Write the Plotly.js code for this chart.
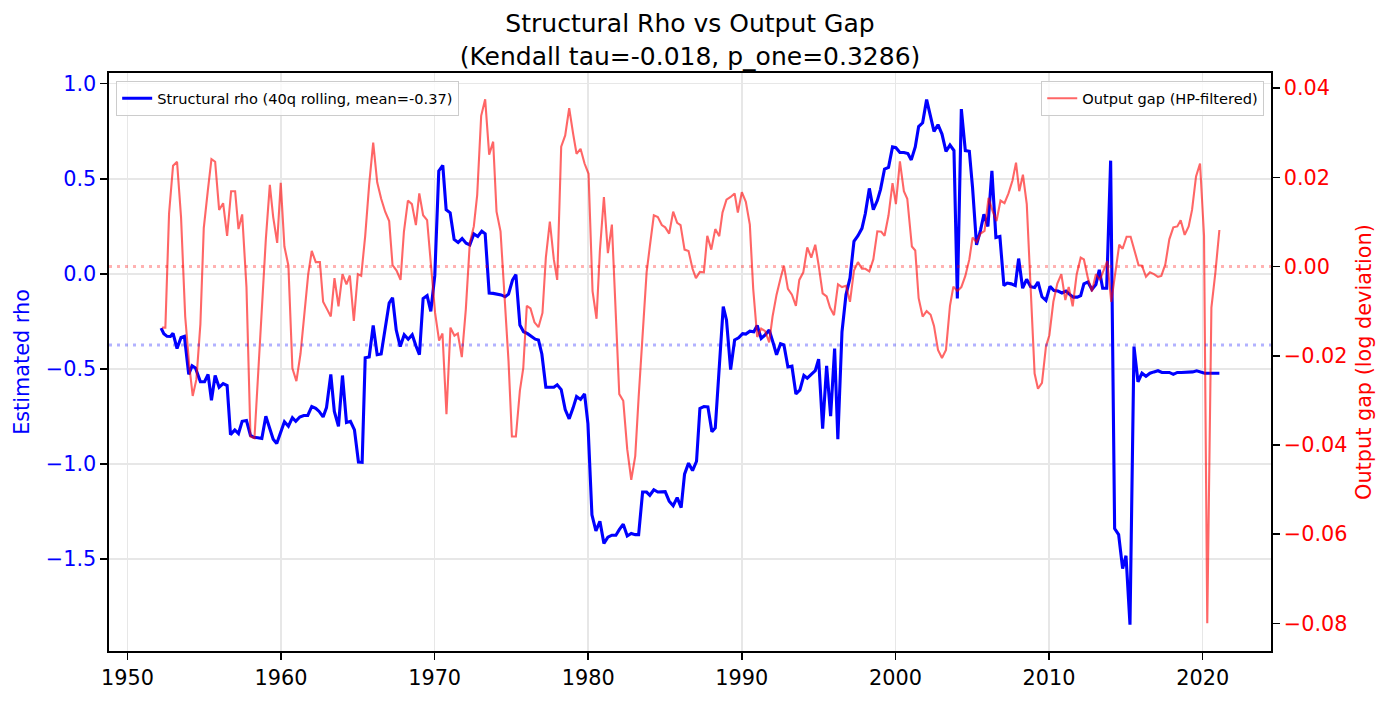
<!DOCTYPE html>
<html>
<head>
<meta charset="utf-8">
<script src="https://cdn.plot.ly/plotly-3.0.1.min.js"></script>
<style>
  html, body { margin: 0; padding: 0; background: #fff; }
  #graphDiv { width: 1392px; height: 701px; }
</style>
</head>
<body>
<div id="graphDiv"></div>
<script>
// Structural rho, 40q rolling window
var rhoYears = [
  1952.19, 1952.37, 1952.58, 1952.80, 1952.97, 1953.23, 1953.49, 1953.71, 1953.99, 1954.21,
  1954.43, 1954.75, 1955.02, 1955.25, 1955.47, 1955.71, 1955.97, 1956.23, 1956.49, 1956.71,
  1956.99, 1957.23, 1957.47, 1957.75, 1958.01, 1958.23, 1958.49, 1958.75, 1959.01, 1959.27,
  1959.49, 1959.72, 1959.96, 1960.22, 1960.48, 1960.74, 1960.96, 1961.22, 1961.48, 1961.74,
  1962.00, 1962.26, 1962.48, 1962.74, 1962.96, 1963.24, 1963.47, 1963.74, 1964.00, 1964.26,
  1964.52, 1964.78, 1965.04, 1965.28, 1965.48, 1965.74, 1966.00, 1966.26, 1966.52, 1966.78,
  1967.04, 1967.26, 1967.50, 1967.76, 1968.02, 1968.28, 1968.54, 1968.78, 1969.01, 1969.25,
  1969.51, 1969.75, 1970.01, 1970.27, 1970.53, 1970.75, 1971.01, 1971.27, 1971.53, 1971.79,
  1972.05, 1972.29, 1972.55, 1972.81, 1973.07, 1973.29, 1973.55, 1973.81, 1974.07, 1974.33,
  1974.59, 1974.81, 1975.07, 1975.29, 1975.55, 1975.79, 1976.05, 1976.33, 1976.55, 1976.76,
  1976.98, 1977.24, 1977.50, 1977.76, 1977.98, 1978.24, 1978.50, 1978.76, 1979.02, 1979.24,
  1979.50, 1979.76, 1979.98, 1980.24, 1980.50, 1980.76, 1981.02, 1981.28, 1981.54, 1981.80,
  1982.02, 1982.28, 1982.54, 1982.80, 1983.06, 1983.28, 1983.54, 1983.80, 1984.01, 1984.27,
  1984.53, 1984.79, 1985.01, 1985.27, 1985.53, 1985.79, 1986.05, 1986.27, 1986.53, 1986.79,
  1987.05, 1987.27, 1987.53, 1987.79, 1988.05, 1988.27, 1988.53, 1988.79, 1989.00, 1989.27,
  1989.53, 1989.79, 1990.05, 1990.26, 1990.52, 1990.78, 1991.00, 1991.26, 1991.52, 1991.78,
  1992.04, 1992.26, 1992.52, 1992.74, 1993.00, 1993.26, 1993.52, 1993.78, 1994.04, 1994.26,
  1994.52, 1994.78, 1995.00, 1995.26, 1995.52, 1995.78, 1996.04, 1996.25, 1996.52, 1996.78,
  1997.04, 1997.30, 1997.56, 1997.82, 1998.04, 1998.30, 1998.56, 1998.82, 1999.03, 1999.29,
  1999.55, 1999.81, 2000.03, 2000.29, 2000.55, 2000.81, 2001.03, 2001.29, 2001.51, 2001.77,
  2002.03, 2002.29, 2002.51, 2002.77, 2003.03, 2003.29, 2003.55, 2003.81, 2004.03, 2004.29,
  2004.55, 2004.81, 2005.02, 2005.28, 2005.54, 2005.76, 2006.02, 2006.28, 2006.54, 2006.80,
  2007.06, 2007.28, 2007.54, 2007.80, 2008.02, 2008.28, 2008.54, 2008.80, 2009.06, 2009.28,
  2009.54, 2009.80, 2010.06, 2010.32, 2010.58, 2010.84, 2011.10, 2011.32, 2011.58, 2011.84,
  2012.06, 2012.27, 2012.53, 2012.79, 2013.05, 2013.27, 2013.49, 2013.75, 2014.01, 2014.27,
  2014.53, 2014.79, 2015.01, 2015.27, 2015.53, 2015.79, 2016.05, 2016.31, 2016.57, 2016.83,
  2017.09, 2017.35, 2017.61, 2017.83, 2018.09, 2018.35, 2018.61, 2018.87, 2019.13, 2019.35,
  2019.61, 2019.87, 2020.13, 2020.39, 2020.65, 2020.91, 2021.09
];
var rhoValues = [
  -0.286, -0.315, -0.329, -0.330, -0.313, -0.393, -0.335, -0.329, -0.529, -0.484,
  -0.496, -0.568, -0.568, -0.529, -0.665, -0.535, -0.597, -0.578, -0.588, -0.846,
  -0.821, -0.840, -0.776, -0.772, -0.850, -0.860, -0.862, -0.866, -0.749, -0.821,
  -0.870, -0.893, -0.840, -0.778, -0.802, -0.757, -0.776, -0.753, -0.745, -0.745,
  -0.698, -0.708, -0.724, -0.753, -0.704, -0.529, -0.724, -0.802, -0.535, -0.782,
  -0.776, -0.821, -0.990, -0.992, -0.442, -0.438, -0.272, -0.426, -0.422, -0.282,
  -0.154, -0.126, -0.296, -0.383, -0.321, -0.344, -0.321, -0.379, -0.426, -0.130,
  -0.115, -0.198, -0.010, 0.541, 0.570, 0.337, 0.321, 0.181, 0.165, 0.185,
  0.161, 0.152, 0.210, 0.196, 0.224, 0.210, -0.101, -0.103, -0.107, -0.111,
  -0.121, -0.107, -0.033, -0.004, -0.270, -0.305, -0.315, -0.329, -0.344, -0.348,
  -0.422, -0.597, -0.597, -0.597, -0.584, -0.609, -0.714, -0.763, -0.704, -0.646,
  -0.661, -0.632, -0.788, -1.268, -1.352, -1.302, -1.418, -1.385, -1.375, -1.375,
  -1.346, -1.317, -1.379, -1.366, -1.372, -1.372, -1.148, -1.148, -1.165, -1.136,
  -1.148, -1.146, -1.146, -1.196, -1.220, -1.177, -1.230, -1.054, -0.996, -1.035,
  -0.986, -0.708, -0.698, -0.700, -0.831, -0.811, -0.480, -0.173, -0.243, -0.504,
  -0.348, -0.337, -0.315, -0.317, -0.302, -0.305, -0.272, -0.340, -0.321, -0.296,
  -0.364, -0.426, -0.368, -0.374, -0.490, -0.486, -0.632, -0.611, -0.535, -0.549,
  -0.529, -0.510, -0.449, -0.815, -0.484, -0.749, -0.393, -0.870, -0.305, -0.111,
  -0.023, 0.171, 0.200, 0.239, 0.317, 0.449, 0.337, 0.385, 0.444, 0.551,
  0.560, 0.667, 0.663, 0.638, 0.638, 0.632, 0.599, 0.667, 0.774, 0.794,
  0.916, 0.823, 0.749, 0.784, 0.735, 0.644, 0.677, 0.648, -0.130, 0.866,
  0.648, 0.644, 0.453, 0.152, 0.230, 0.313, 0.249, 0.541, 0.191, 0.196,
  -0.062, -0.049, -0.053, -0.062, 0.080, -0.076, -0.029, -0.068, -0.072, -0.043,
  -0.121, -0.140, -0.066, -0.088, -0.091, -0.101, -0.091, -0.107, -0.123, -0.123,
  -0.115, -0.053, -0.043, -0.082, -0.056, 0.021, -0.076, -0.076, 0.595, -1.340,
  -1.372, -1.551, -1.483, -1.846, -0.383, -0.568, -0.523, -0.539, -0.523, -0.516,
  -0.510, -0.519, -0.519, -0.519, -0.529, -0.519, -0.519, -0.519, -0.519, -0.516,
  -0.510, -0.516, -0.523, -0.523, -0.523, -0.523, -0.523
];
var rhoMean = -0.374;

// Output gap, HP-filtered (log deviation)
var gapYears = [
  1952.26, 1952.47, 1952.71, 1952.97, 1953.23, 1953.49, 1953.76, 1954.02, 1954.25, 1954.49,
  1954.75, 1954.97, 1955.23, 1955.47, 1955.71, 1955.97, 1956.23, 1956.49, 1956.75, 1957.01,
  1957.23, 1957.47, 1957.75, 1958.01, 1958.27, 1958.53, 1958.75, 1959.01, 1959.27, 1959.49,
  1959.75, 1959.98, 1960.22, 1960.48, 1960.74, 1961.00, 1961.27, 1961.53, 1961.77, 1962.00,
  1962.26, 1962.53, 1962.74, 1963.00, 1963.24, 1963.48, 1963.74, 1964.00, 1964.26, 1964.48,
  1964.74, 1965.00, 1965.22, 1965.48, 1965.74, 1966.00, 1966.26, 1966.52, 1966.78, 1967.04,
  1967.26, 1967.52, 1967.78, 1968.00, 1968.26, 1968.52, 1968.78, 1969.00, 1969.25, 1969.51,
  1969.77, 1970.03, 1970.29, 1970.51, 1970.77, 1971.03, 1971.29, 1971.51, 1971.77, 1972.03,
  1972.29, 1972.55, 1972.77, 1973.03, 1973.29, 1973.55, 1973.81, 1974.03, 1974.29, 1974.55,
  1974.81, 1975.03, 1975.29, 1975.55, 1975.77, 1976.00, 1976.24, 1976.50, 1976.76, 1977.02,
  1977.24, 1977.50, 1977.76, 1977.98, 1978.24, 1978.50, 1978.76, 1979.02, 1979.24, 1979.50,
  1979.76, 1980.02, 1980.28, 1980.54, 1980.76, 1981.02, 1981.28, 1981.54, 1981.76, 1982.02,
  1982.28, 1982.54, 1982.80, 1983.06, 1983.28, 1983.54, 1983.80, 1984.01, 1984.27, 1984.53,
  1984.79, 1985.01, 1985.27, 1985.53, 1985.79, 1986.01, 1986.27, 1986.53, 1986.79, 1987.01,
  1987.27, 1987.53, 1987.75, 1988.01, 1988.27, 1988.53, 1988.74, 1989.00, 1989.27, 1989.53,
  1989.74, 1990.00, 1990.26, 1990.52, 1990.74, 1991.00, 1991.26, 1991.52, 1991.78, 1992.00,
  1992.26, 1992.52, 1992.74, 1993.00, 1993.26, 1993.52, 1993.74, 1994.00, 1994.26, 1994.52,
  1994.78, 1995.00, 1995.26, 1995.52, 1995.74, 1996.00, 1996.26, 1996.52, 1996.78, 1997.04,
  1997.30, 1997.56, 1997.82, 1998.04, 1998.30, 1998.56, 1998.82, 1999.08, 1999.29, 1999.55,
  1999.81, 2000.03, 2000.29, 2000.55, 2000.77, 2001.07, 2001.29, 2001.51, 2001.77, 2002.03,
  2002.29, 2002.51, 2002.77, 2003.03, 2003.29, 2003.55, 2003.77, 2004.03, 2004.29, 2004.55,
  2004.81, 2005.02, 2005.28, 2005.54, 2005.80, 2006.06, 2006.32, 2006.58, 2006.84, 2007.10,
  2007.36, 2007.62, 2007.85, 2008.06, 2008.30, 2008.55, 2008.80, 2009.06, 2009.28, 2009.54,
  2009.80, 2010.02, 2010.28, 2010.54, 2010.80, 2011.06, 2011.28, 2011.54, 2011.80, 2012.06,
  2012.27, 2012.53, 2012.79, 2013.05, 2013.31, 2013.53, 2013.79, 2014.05, 2014.31, 2014.57,
  2014.79, 2015.05, 2015.31, 2015.57, 2015.83, 2016.05, 2016.31, 2016.57, 2016.83, 2017.09,
  2017.31, 2017.57, 2017.83, 2018.09, 2018.35, 2018.57, 2018.83, 2019.09, 2019.31, 2019.57,
  2019.83, 2020.09, 2020.30, 2020.57, 2020.83, 2021.09
];
var gapValues = [
  -0.0137, -0.0137, 0.0119, 0.0226, 0.0235, 0.0111, -0.0112, -0.0220, -0.0290, -0.0253,
  -0.0129, 0.0086, 0.0169, 0.0241, 0.0235, 0.0127, 0.0142, 0.0069, 0.0169, 0.0169,
  0.0084, 0.0117, -0.0046, -0.0381, -0.0385, -0.0228, -0.0073, 0.0061, 0.0183, 0.0111,
  0.0053, 0.0188, 0.0045, 0.0002, -0.0228, -0.0257, -0.0195, -0.0104, -0.0017, 0.0035,
  0.0010, 0.0010, -0.0079, -0.0096, -0.0112, -0.0026, -0.0089, -0.0017, -0.0040, -0.0020,
  -0.0122, -0.0017, -0.0021, 0.0069, 0.0185, 0.0278, 0.0189, 0.0152, 0.0123, 0.0102,
  0.0003, -0.0009, -0.0030, 0.0078, 0.0148, 0.0140, 0.0093, 0.0164, 0.0115, 0.0104,
  -0.0005, -0.0104, -0.0166, -0.0150, -0.0331, -0.0137, -0.0155, -0.0150, -0.0203, -0.0096,
  0.0053, 0.0090, 0.0160, 0.0338, 0.0375, 0.0251, 0.0280, 0.0123, 0.0079, -0.0055,
  -0.0212, -0.0381, -0.0381, -0.0278, -0.0228, -0.0088, -0.0094, -0.0125, -0.0136, -0.0104,
  0.0020, 0.0101, 0.0016, -0.0030, 0.0269, 0.0294, 0.0355, 0.0297, 0.0253, 0.0264,
  0.0231, 0.0208, -0.0055, -0.0117, 0.0036, 0.0156, 0.0030, 0.0094, -0.0079, -0.0286,
  -0.0301, -0.0410, -0.0478, -0.0425, -0.0294, -0.0162, -0.0013, 0.0045, 0.0115, 0.0111,
  0.0093, 0.0088, 0.0074, 0.0123, 0.0098, 0.0093, 0.0038, 0.0035, -0.0005, -0.0026,
  -0.0012, -0.0013, 0.0069, 0.0038, 0.0084, 0.0068, 0.0121, 0.0150, 0.0156, 0.0164,
  0.0121, 0.0167, 0.0145, 0.0094, -0.0050, -0.0158, -0.0139, -0.0145, -0.0170, -0.0112,
  -0.0063, -0.0026, 0.0002, -0.0050, -0.0063, -0.0088, -0.0030, -0.0013, 0.0043, 0.0020,
  0.0049, 0.0003, -0.0060, -0.0067, -0.0092, -0.0109, -0.0040, -0.0046, -0.0043, -0.0079,
  -0.0009, 0.0010, -0.0005, -0.0005, -0.0011, 0.0016, 0.0079, 0.0078, 0.0069, 0.0115,
  0.0187, 0.0140, 0.0236, 0.0169, 0.0152, 0.0045, 0.0036, -0.0071, -0.0112, -0.0100,
  -0.0108, -0.0133, -0.0187, -0.0205, -0.0187, -0.0088, -0.0045, -0.0055, -0.0046, -0.0021,
  0.0016, 0.0065, 0.0055, 0.0074, 0.0080, 0.0154, 0.0125, 0.0102, 0.0148, 0.0142,
  0.0164, 0.0193, 0.0233, 0.0169, 0.0206, 0.0140, -0.0063, -0.0240, -0.0274, -0.0261,
  -0.0179, -0.0154, -0.0079, -0.0038, -0.0017, -0.0075, -0.0046, -0.0089, -0.0017, 0.0020,
  0.0016, -0.0026, -0.0056, -0.0017, -0.0030, -0.0012, 0.0012, -0.0079, -0.0009, 0.0049,
  0.0040, 0.0067, 0.0067, 0.0036, 0.0003, 0.0002, -0.0023, -0.0013, -0.0017, -0.0023,
  -0.0021, 0.0005, 0.0061, 0.0088, 0.0090, 0.0104, 0.0071, 0.0090, 0.0127, 0.0202,
  0.0231, 0.0069, -0.0800, -0.0092, -0.0013, 0.0082
];
var gapMean = 0.0;

var yearTicks = [1950, 1960, 1970, 1980, 1990, 2000, 2010, 2020];
var rhoTicks = [-1.5, -1.0, -0.5, 0.0, 0.5, 1.0];
var gapTicks = [-0.08, -0.06, -0.04, -0.02, 0.00, 0.02, 0.04];

var FONT = 'DejaVu Sans, Arial, sans-serif';
var tickPx = 20.8;

var rhoTrace = {
    type: 'scatter',
    mode: 'lines',
    name: 'Structural rho (40q rolling, mean=' + rhoMean.toFixed(2) + ')',
    x: rhoYears,
    y: rhoValues,
    yaxis: 'y',
    legend: 'legend',
    line: { color: '#0000ff', width: 3.1 }
};
var gapTrace = {
    type: 'scatter',
    mode: 'lines',
    name: 'Output gap (HP-filtered)',
    x: gapYears,
    y: gapValues,
    yaxis: 'y2',
    legend: 'legend2',
    line: { color: 'rgba(255,0,0,0.6)', width: 2.1 }
};

var legendBox = {
    bgcolor: 'rgba(255,255,255,0.8)',
    bordercolor: '#cccccc',
    borderwidth: 1.2,
    font: { family: FONT, size: 14.6, color: '#000' },
    yanchor: 'top',
    y: 0.986
};

var layout = {
    width: 1392,
    height: 701,
    margin: { l: 109, r: 121, t: 73, b: 50, pad: 0 },
    paper_bgcolor: '#fff',
    plot_bgcolor: '#fff',
    font: { family: FONT, color: '#000' },
    showlegend: true,
    title: {
        text: 'Structural Rho vs Output Gap<br>(Kendall tau=-0.018, p_one=0.3286)',
        font: { family: FONT, size: 25, color: '#000' },
        xref: 'paper',
        x: 0.5,
        xanchor: 'center',
        yref: 'paper',
        y: 1,
        yanchor: 'bottom',
        pad: { b: 41 }
    },
    xaxis: {
        range: [1948.8, 2024.45],
        tickmode: 'array',
        tickvals: yearTicks,
        ticktext: yearTicks.map(String),
        ticks: 'outside',
        ticklen: 7,
        tickwidth: 1.6,
        tickcolor: '#000',
        tickfont: { family: FONT, size: tickPx, color: '#000' },
        showline: true,
        linecolor: '#000',
        linewidth: 1.6,
        mirror: true,
        showgrid: true,
        gridcolor: '#e7e7e7',
        gridwidth: 1.6,
        zeroline: false
    },
    yaxis: {
        range: [-1.984, 1.056],
        tickmode: 'array',
        tickvals: rhoTicks,
        tickformat: '.1f',
        ticks: 'outside',
        ticklen: 7,
        tickwidth: 1.6,
        tickcolor: '#000',
        tickfont: { family: FONT, size: tickPx, color: '#0000ff' },
        showline: true,
        linecolor: '#000',
        linewidth: 1.6,
        showgrid: true,
        gridcolor: '#e7e7e7',
        gridwidth: 1.6,
        zeroline: false,
        title: {
            text: 'Estimated rho',
            font: { family: FONT, size: tickPx, color: '#0000ff' },
            standoff: 10
        }
    },
    yaxis2: {
        overlaying: 'y',
        side: 'right',
        range: [-0.0862, 0.0434],
        tickmode: 'array',
        tickvals: gapTicks,
        tickformat: '.2f',
        ticks: 'outside',
        ticklen: 7,
        tickwidth: 1.6,
        tickcolor: '#000',
        tickfont: { family: FONT, size: tickPx, color: '#ff0000' },
        showline: true,
        linecolor: '#000',
        linewidth: 1.6,
        showgrid: false,
        zeroline: false,
        title: {
            text: 'Output gap (log deviation)',
            font: { family: FONT, size: tickPx, color: '#ff0000' },
            standoff: 10
        }
    },
    legend: Object.assign({}, legendBox, { x: 0.006, xanchor: 'left' }),
    legend2: Object.assign({}, legendBox, { x: 0.994, xanchor: 'right' }),
    shapes: [
        {
            type: 'line', xref: 'paper', x0: 0, x1: 1, yref: 'y', y0: rhoMean, y1: rhoMean,
            line: { color: 'rgba(0,0,255,0.3)', width: 3, dash: '3px,5px' }
        },
        {
            type: 'line', xref: 'paper', x0: 0, x1: 1, yref: 'y2', y0: gapMean, y1: gapMean,
            line: { color: 'rgba(255,0,0,0.3)', width: 3, dash: '3px,5px' }
        }
    ]
};

Plotly.newPlot('graphDiv', [rhoTrace, gapTrace], layout, { displayModeBar: false, staticPlot: true });
</script>
</body>
</html>
